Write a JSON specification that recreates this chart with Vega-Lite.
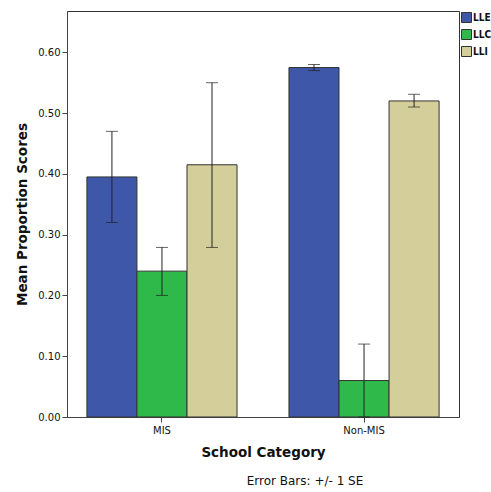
{
  "$schema": "https://vega.github.io/schema/vega-lite/v6.json",
  "autosize": {"type": "none"},
  "padding": {"left": 67, "top": 11, "right": 32, "bottom": 75},
  "width": 392,
  "height": 406,
  "background": "white",
  "config": {
    "font": "DejaVu Sans",
    "view": {"stroke": "#333", "strokeWidth": 1},
    "axis": {"domainColor": "#444", "tickColor": "#444", "labelColor": "#111", "titleColor": "#111", "grid": false}
  },
  "title": {
    "text": "Error Bars: +/- 1 SE",
    "orient": "bottom",
    "anchor": "middle",
    "dx": 42,
    "offset": 17,
    "fontSize": 12,
    "fontWeight": "normal",
    "color": "#111",
    "font": "DejaVu Sans"
  },
  "data": {
    "values": [
      {"category": "MIS", "measure": "LLE", "mean": 0.395, "lo": 0.320, "hi": 0.470},
      {"category": "MIS", "measure": "LLC", "mean": 0.240, "lo": 0.200, "hi": 0.279},
      {"category": "MIS", "measure": "LLI", "mean": 0.415, "lo": 0.279, "hi": 0.550},
      {"category": "Non-MIS", "measure": "LLE", "mean": 0.575, "lo": 0.570, "hi": 0.580},
      {"category": "Non-MIS", "measure": "LLC", "mean": 0.060, "lo": 0.000, "hi": 0.120},
      {"category": "Non-MIS", "measure": "LLI", "mean": 0.520, "lo": 0.510, "hi": 0.531}
    ]
  },
  "encoding": {
    "x": {
      "field": "category",
      "type": "nominal",
      "scale": {"paddingInner": 0.257, "paddingOuter": 0.0985},
      "axis": {
        "title": "School Category",
        "titleFontSize": 13.5,
        "titleFontWeight": "bold",
        "titlePadding": 10,
        "labelAngle": 0,
        "labelFontSize": 10,
        "labelPadding": 3,
        "tickSize": 5
      }
    },
    "xOffset": {
      "field": "measure",
      "type": "nominal",
      "sort": ["LLE", "LLC", "LLI"],
      "scale": {"paddingInner": 0, "paddingOuter": 0}
    }
  },
  "layer": [
    {
      "mark": {"type": "bar", "stroke": "#333", "strokeWidth": 1},
      "encoding": {
        "y": {
          "field": "mean",
          "type": "quantitative",
          "scale": {"domain": [0, 0.668], "nice": false, "zero": true},
          "axis": {
            "title": "Mean Proportion Scores",
            "titleFontSize": 13.5,
            "titleFontWeight": "bold",
            "titlePadding": 8,
            "values": [0, 0.1, 0.2, 0.3, 0.4, 0.5, 0.6],
            "format": ".2f",
            "labelFontSize": 10,
            "labelPadding": 2,
            "tickSize": 5
          }
        },
        "color": {
          "field": "measure",
          "type": "nominal",
          "sort": ["LLE", "LLC", "LLI"],
          "scale": {"domain": ["LLE", "LLC", "LLI"], "range": ["#3F57A8", "#30B94B", "#D4CF9A"]},
          "legend": {
            "title": null,
            "orient": "none",
            "legendX": 394,
            "legendY": 1,
            "padding": 0,
            "symbolType": "square",
            "symbolSize": 100,
            "symbolStrokeColor": "#333",
            "symbolStrokeWidth": 1,
            "symbolOpacity": 1,
            "labelFont": "DejaVu Sans Condensed",
            "labelFontSize": 10,
            "labelFontWeight": "bold",
            "labelColor": "#111",
            "labelOffset": 1,
            "rowPadding": 2
          }
        }
      }
    },
    {
      "mark": {"type": "rule", "color": "#222", "strokeWidth": 1},
      "encoding": {
        "y": {"field": "lo", "type": "quantitative"},
        "y2": {"field": "hi"}
      }
    },
    {
      "mark": {"type": "tick", "color": "#222", "orient": "horizontal", "size": 12, "thickness": 1},
      "encoding": {
        "y": {"field": "hi", "type": "quantitative"}
      }
    },
    {
      "mark": {"type": "tick", "color": "#222", "orient": "horizontal", "size": 12, "thickness": 1},
      "encoding": {
        "y": {"field": "lo", "type": "quantitative"}
      }
    }
  ]
}
